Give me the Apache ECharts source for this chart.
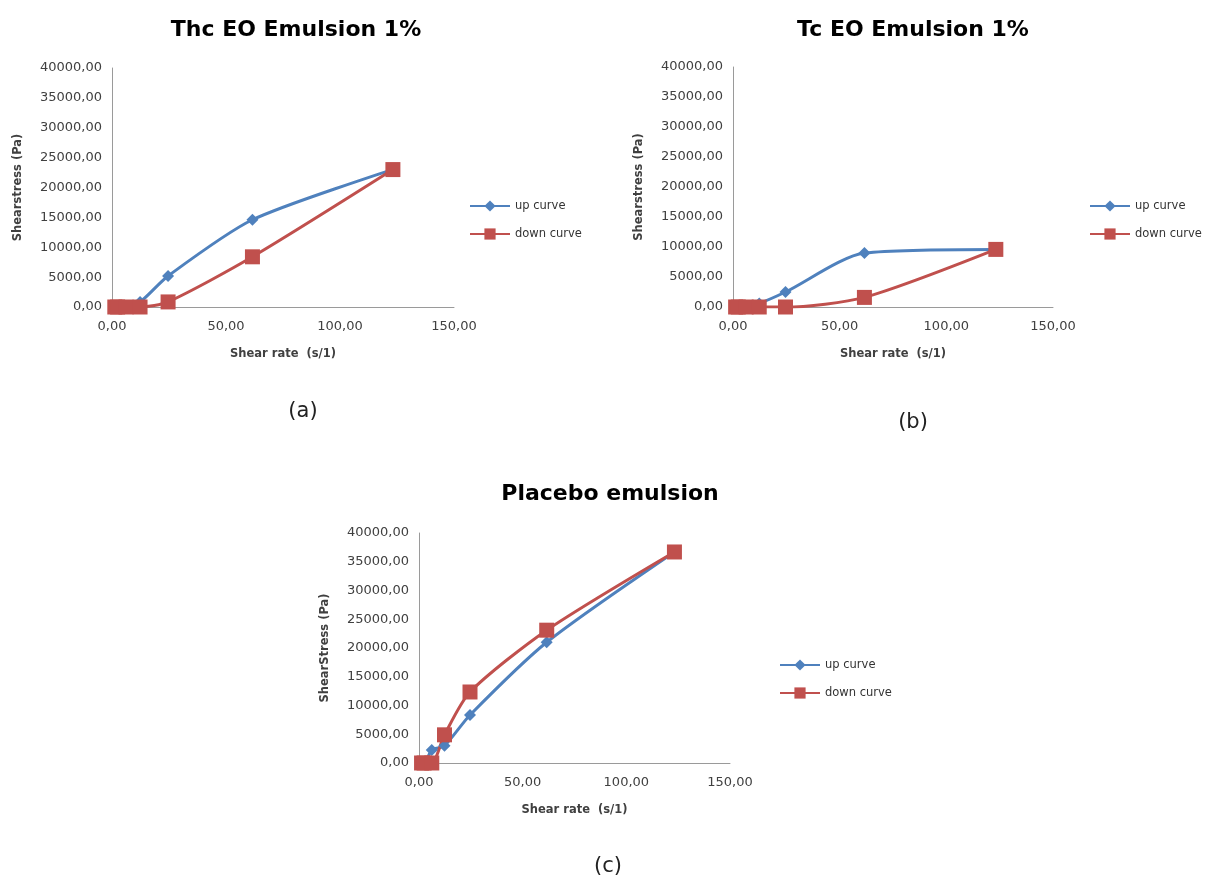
<!DOCTYPE html>
<html>
<head>
<meta charset="utf-8">
<script src="https://cdn.jsdelivr.net/npm/echarts@6/dist/echarts.min.js"></script>
<style>
  html, body { margin: 0; padding: 0; background: #fff; }
  #main { width: 1205px; height: 881px; }
</style>
</head>
<body>
<div id="main"></div>
<script>
// shear rate steps (s/1), same for all three runs
var shearRate = [1.23, 2.46, 6.16, 12.3, 24.6, 61.6, 123.2];

// (a) Thc EO Emulsion 1%
var thcUp   = [10, 20, 40, 840, 5200, 14600, 23000];
var thcDown = [0, 0, 0, 0, 850, 8400, 23000];

// (b) Tc EO Emulsion 1%
var tcUp   = [0, 0, 50, 600, 2500, 9000, 9600];
var tcDown = [0, 0, 0, 0, 0, 1600, 9600];

// (c) Placebo emulsion
var plUp   = [0, 0, 2250, 3000, 8350, 21000, 36700];
var plDown = [0, 0, 0, 4900, 12350, 23100, 36700];

var titles   = ['Thc EO Emulsion 1%', 'Tc EO Emulsion 1%', 'Placebo emulsion'];
var captions = ['(a)', '(b)', '(c)'];
var yNames   = ['Shearstress (Pa)', 'Shearstress (Pa)', 'ShearStress (Pa)'];
var xName    = 'Shear rate  (s/1)';
var legendNames = ['up curve', 'down curve'];

var BLUE = '#4F81BD', RED = '#C0504D', TXT = '#404040', AX = '#9a9a9a';
var FONT = 'DejaVu Sans';

function pairs(xs, ys) {
  return xs.map(function (x, i) { return [x, ys[i]]; });
}
function fmt(v) { return v.toFixed(2).replace('.', ','); }

// grid boxes for the three panels
var grids = [
  { left: 112, top: 68, width: 342, height: 239 },
  { left: 733, top: 67, width: 320, height: 240 },
  { left: 419, top: 533, width: 311, height: 230 }
];

var xAxes = [], yAxes = [];
grids.forEach(function (g, i) {
  xAxes.push({
    gridIndex: i, type: 'value', min: 0, max: 150, interval: 50,
    name: xName, nameLocation: 'middle', nameGap: 41,
    nameTextStyle: { fontFamily: FONT, fontWeight: 'bold', fontSize: 11.5, color: TXT },
    axisLine: { lineStyle: { color: AX, width: 1 } },
    axisTick: { show: false },
    splitLine: { show: false },
    axisLabel: { formatter: fmt, fontFamily: FONT, fontSize: 13, color: TXT, margin: 13 }
  });
  yAxes.push({
    gridIndex: i, type: 'value', min: 0, max: 40000, interval: 5000,
    name: yNames[i], nameLocation: 'middle', nameGap: 88, nameRotate: 90,
    nameTextStyle: { fontFamily: FONT, fontWeight: 'bold', fontSize: 11.5, color: TXT },
    axisLine: { show: true, lineStyle: { color: AX, width: 1 } },
    axisTick: { show: false },
    splitLine: { show: false },
    axisLabel: { formatter: fmt, fontFamily: FONT, fontSize: 13, color: TXT, margin: 10 }
  });
});

var sets = [[thcUp, thcDown], [tcUp, tcDown], [plUp, plDown]];
var series = [];
sets.forEach(function (s, i) {
  series.push({
    name: 'up curve', type: 'line', xAxisIndex: i, yAxisIndex: i,
    data: pairs(shearRate, s[0]), smooth: 0.25,
    symbol: 'diamond', symbolSize: 12,
    lineStyle: { color: BLUE, width: 3 }, itemStyle: { color: BLUE },
    animation: false
  });
  series.push({
    name: 'down curve', type: 'line', xAxisIndex: i, yAxisIndex: i,
    data: pairs(shearRate, s[1]), smooth: 0.25,
    symbol: 'rect', symbolSize: 15,
    lineStyle: { color: RED, width: 3 }, itemStyle: { color: RED },
    animation: false
  });
});

var legendPos = [[464, 195], [1084, 195], [774, 654]];
var legends = legendPos.map(function (p) {
  return {
    left: p[0], top: p[1], orient: 'vertical', itemGap: 16,
    itemWidth: 40, itemHeight: 14, data: legendNames, selectedMode: false,
    textStyle: { fontFamily: FONT, fontSize: 11.5, color: '#333' }
  };
});

var titleStyle = { fontFamily: FONT, fontWeight: 'bold', fontSize: 22, color: '#000' };
var capStyle = { fontFamily: FONT, fontWeight: 'normal', fontSize: 21, color: '#222' };
var titleList = [
  { text: titles[0], left: 291, top: 14, textAlign: 'center', textStyle: titleStyle },
  { text: titles[1], left: 908, top: 14, textAlign: 'center', textStyle: titleStyle },
  { text: titles[2], left: 605, top: 478, textAlign: 'center', textStyle: titleStyle },
  { text: captions[0], left: 298, top: 396, textAlign: 'center', textStyle: capStyle },
  { text: captions[1], left: 908, top: 407, textAlign: 'center', textStyle: capStyle },
  { text: captions[2], left: 603, top: 851, textAlign: 'center', textStyle: capStyle }
];

var chart = echarts.init(document.getElementById('main'));
chart.setOption({
  backgroundColor: '#fff',
  animation: false,
  title: titleList,
  legend: legends,
  grid: grids,
  xAxis: xAxes,
  yAxis: yAxes,
  series: series
});
window.onresize = chart.resize;
</script>
</body>
</html>
